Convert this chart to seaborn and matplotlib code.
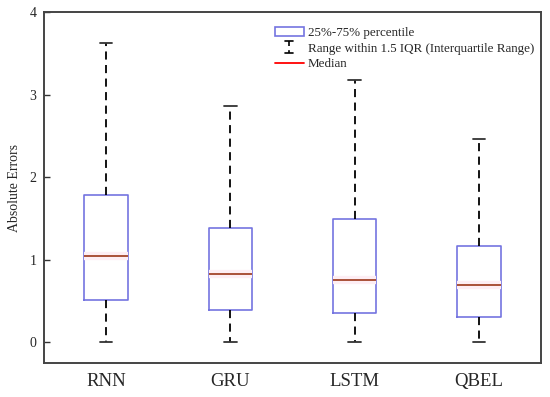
import matplotlib
matplotlib.use("Agg")

import matplotlib.pyplot as plt
import pandas as pd
import seaborn as sns
from matplotlib.legend_handler import HandlerBase
from matplotlib.lines import Line2D
from matplotlib.patches import Patch

# values: min, Q1, median, Q3, max per model
models = ["RNN", "GRU", "LSTM", "QBEL"]
lower = [0.00, 0.01, 0.00, 0.00]
q1 = [0.51, 0.39, 0.35, 0.31]
median = [1.05, 0.83, 0.76, 0.70]
q3 = [1.78, 1.39, 1.49, 1.17]
upper = [3.62, 2.86, 3.18, 2.46]

rows = []
for i, m in enumerate(models):
    for v in (lower[i], q1[i], median[i], q3[i], upper[i]):
        rows.append({"model": m, "err": v})
df = pd.DataFrame(rows)

BOX_BLUE = "#7474e0"
MED = "#a3452a"

sns.set_style("white")
plt.rcParams["font.family"] = ["Liberation Serif", "DejaVu Serif"]

fig = plt.figure(figsize=(5.5, 3.97), dpi=100)
ax = fig.add_axes([0.08, 0.0856, 0.9036, 0.8842])

# faint pink band under the medians
sns.boxplot(data=df, x="model", y="err", ax=ax, width=0.35, whis=(0, 100),
            fill=False, linecolor="white", showfliers=False,
            boxprops=dict(linewidth=0, alpha=0), whiskerprops=dict(linewidth=0, alpha=0),
            capprops=dict(linewidth=0, alpha=0),
            medianprops=dict(color="#fdeef4", linewidth=6, solid_capstyle="butt", alpha=1))

sns.boxplot(data=df, x="model", y="err", ax=ax, width=0.35, whis=(0, 100),
            fill=False, linecolor="black", showfliers=False,
            boxprops=dict(color=BOX_BLUE, linewidth=1.2),
            whiskerprops=dict(color="black", linewidth=1.3, linestyle=(0, (4.5, 3))),
            capprops=dict(color="#333333", linewidth=1.3),
            capwidths=0.1,
            medianprops=dict(color=MED, linewidth=1.3))

ax.set_xlim(-0.5, 3.5)
ax.set_ylim(-0.25, 4)
ax.set_yticks([0, 1, 2, 3, 4])
ax.set_ylabel("Absolute Errors", fontsize=10, labelpad=6)
ax.set_xlabel("")
ax.tick_params(axis="y", direction="in", length=4, width=1, labelsize=10, pad=5.5,
               left=True, color="#333333")
ax.tick_params(axis="x", length=0, labelsize=13.5, pad=7)
for s in ax.spines.values():
    s.set_visible(True)
    s.set_color("#444444")
    s.set_linewidth(1.4)


class RangeHandler(HandlerBase):
    def create_artists(self, legend, orig_handle, xdescent, ydescent,
                       width, height, fontsize, trans):
        cx = width / 2 - xdescent
        top = height + 1
        bot = -1
        cap = Line2D([cx - 3, cx + 3], [top, top], color="black", lw=1.2, transform=trans)
        stem = Line2D([cx, cx], [top, bot], color="black", lw=1.2,
                      linestyle=(0, (3, 2.5)), transform=trans)
        base = Line2D([cx - 3, cx + 3], [bot, bot], color="black", lw=1.2, transform=trans)
        return [cap, stem, base]


class RangeKey:
    pass


handles = [Patch(facecolor="white", edgecolor=BOX_BLUE, linewidth=1.2),
           RangeKey(),
           Line2D([], [], color="red", linewidth=1.3)]
labels = ["25%-75% percentile", "Range within 1.5 IQR (Interquartile Range)", "Median"]
ax.legend(handles, labels, loc="upper right", bbox_to_anchor=(1.0, 0.975),
          frameon=False, fontsize=9.4, handlelength=2.2, handletextpad=0.35,
          labelspacing=0.25, borderaxespad=0.1,
          handler_map={RangeKey: RangeHandler()})

fig.savefig("out.png", dpi=100)
